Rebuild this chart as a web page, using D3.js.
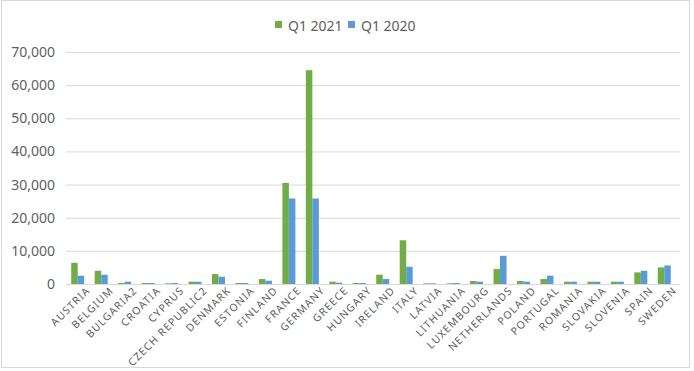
<html>
<head>
<style>
  body { margin: 0; background: #fff; }
  text { font-family: "Noto Sans", Arial, sans-serif; fill: #606060; }
  .yaxis text { font-size: 14px; }
  .xaxis text { font-size: 10.5px; letter-spacing: 1.1px; }
  .legend text { font-size: 14px; }
</style>
<script src="https://d3js.org/d3.v7.min.js"></script>
</head>
<body>
<svg width="694" height="371"></svg>
<script>
// data
const countries = ["AUSTRIA", "BELGIUM", "BULGARIA2", "CROATIA", "CYPRUS", "CZECH REPUBLIC2", "DENMARK",
  "ESTONIA", "FINLAND", "FRANCE", "GERMANY", "GREECE", "HUNGARY", "IRELAND", "ITALY", "LATVIA",
  "LITHUANIA", "LUXEMBOURG", "NETHERLANDS", "POLAND", "PORTUGAL", "ROMANIA", "SLOVAKIA", "SLOVENIA",
  "SPAIN", "SWEDEN"];
const q12021 = [6400, 4000, 300, 300, 200, 700, 3000, 300, 1500, 30500, 64500, 700, 300, 2800, 13200, 200,
  200, 900, 4500, 900, 1500, 700, 700, 700, 3500, 5000];
const q12020 = [2500, 2800, 700, 300, 300, 700, 2200, 300, 1000, 25800, 25800, 400, 300, 1500, 5200, 200,
  300, 700, 8500, 700, 2500, 700, 700, 700, 4000, 5600];
const yTicks = [0, 10000, 20000, 30000, 40000, 50000, 60000, 70000];
const seriesNames = ["Q1 2021", "Q1 2020"];
const colors = ["#70ad47", "#5b9bd5"];

const svg = d3.select("svg");

// chart border
svg.append("rect").attr("x", 1.5).attr("y", 0.5).attr("width", 688).attr("height", 367)
  .attr("fill", "none").attr("stroke", "#d9d9d9");

const plotLeft = 66, plotRight = 676, plotTop = 52, plotBottom = 284;
const gridRight = 680;
const x = d3.scaleBand().domain(countries).range([plotLeft, plotRight]);
const y = d3.scaleLinear().domain([0, 70000]).range([plotBottom, plotTop]);

// gridlines
svg.append("g").selectAll("line").data(yTicks.slice(1)).enter().append("line")
  .attr("x1", plotLeft).attr("x2", gridRight)
  .attr("y1", d => y(d) + 0.5).attr("y2", d => y(d) + 0.5)
  .attr("stroke", "#d9d9d9");

// y axis
const yAxis = svg.append("g").attr("class", "yaxis")
  .attr("transform", "translate(" + plotLeft + ",0)")
  .call(d3.axisLeft(y).tickValues(yTicks).tickFormat(d3.format(",")).tickSize(0).tickPadding(11));
yAxis.select(".domain").remove();

// bars
const bw = 6.5;
const series = [q12021, q12020];
series.forEach((vals, s) => {
  svg.append("g").selectAll("rect").data(countries).enter().append("rect")
    .attr("x", (d, i) => x(d) + x.bandwidth() / 2 - bw + s * bw)
    .attr("y", (d, i) => y(vals[i]))
    .attr("width", bw)
    .attr("height", (d, i) => plotBottom - y(vals[i]))
    .attr("fill", colors[s]);
});

// x axis
const xAxis = svg.append("g").attr("class", "xaxis")
  .attr("transform", "translate(0," + plotBottom + ")")
  .call(d3.axisBottom(x).tickSize(0).tickPadding(8));
xAxis.select(".domain").attr("d", "M" + plotLeft + ",0.5H" + gridRight).attr("stroke", "#d9d9d9");
xAxis.selectAll("text")
  .attr("text-anchor", "end")
  .attr("dx", "0.4em")
  .attr("dy", "0.6em")
  .attr("transform", "rotate(-45)");

// legend
const legend = svg.append("g").attr("class", "legend");
const lx = [275, 348];
seriesNames.forEach((n, i) => {
  legend.append("rect").attr("x", lx[i]).attr("y", 21).attr("width", 7).attr("height", 7).attr("fill", colors[i]);
  legend.append("text").attr("x", lx[i] + 13).attr("y", 30.5).text(n);
});
</script>
</body>
</html>
